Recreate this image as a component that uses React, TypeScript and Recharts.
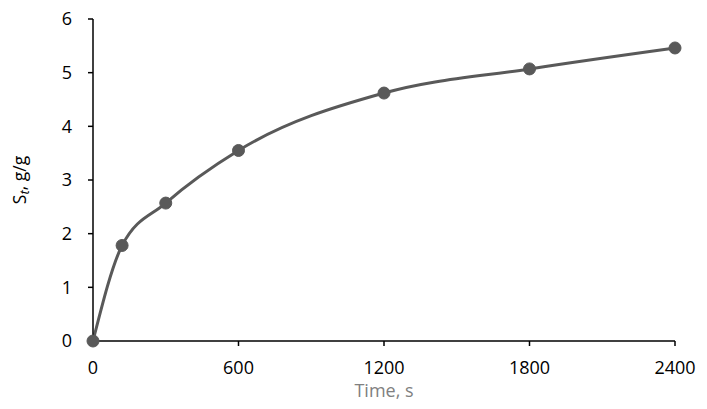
import { LineChart, Line, XAxis, YAxis } from 'recharts'

const times = [0, 120, 300, 600, 1200, 1800, 2400]
const swelling = [0, 1.78, 2.57, 3.55, 4.62, 5.07, 5.46]
const xTicks = [0, 600, 1200, 1800, 2400]
const yTicks = [0, 1, 2, 3, 4, 5, 6]

const data = times.map((t, i) => ({ time: t, st: swelling[i] }))

const FONT = "'Open Sans', 'Noto Sans', sans-serif"

function YLabel(props: any) {
  const vb = props.viewBox || {}
  const cx = 19
  const cy = vb.y + vb.height / 2
  return (
    <text
      x={cx}
      y={cy}
      transform={`rotate(-90, ${cx}, ${cy})`}
      textAnchor="middle"
      dominantBaseline="central"
      fontFamily={FONT}
      fontSize={17.5}
      fill="#000"
    >
      S
      <tspan fontStyle="italic" fontSize={13} dy={5}>t</tspan>
      <tspan dy={-5}>, g/g</tspan>
    </text>
  )
}

export default function App() {
  return (
    <div style={{ position: 'fixed', left: 0, top: 0, width: 707, height: 409, background: '#fff' }}>
      <LineChart
        width={707}
        height={409}
        data={data}
        margin={{ top: 19, right: 32, bottom: 0, left: 0 }}
      >
        <XAxis
          dataKey="time"
          type="number"
          domain={[0, 2400]}
          ticks={xTicks}
          height={68}
          axisLine={{ stroke: '#000', strokeWidth: 1.5 }}
          tickLine={{ stroke: '#000', strokeWidth: 1.5 }}
          tickSize={5}
          tickMargin={15}
          tick={{ fontSize: 18, fill: '#000', fontFamily: FONT }}
          label={{
            value: 'Time, s',
            position: 'insideBottom',
            offset: 12,
            style: { fontSize: 18, fill: '#808080', fontFamily: FONT },
          }}
        />
        <YAxis
          type="number"
          domain={[0, 6]}
          ticks={yTicks}
          width={93}
          axisLine={{ stroke: '#000', strokeWidth: 1.5 }}
          tickLine={{ stroke: '#000', strokeWidth: 1.5 }}
          tickSize={5}
          tickMargin={16}
          tick={{ fontSize: 18, fill: '#000', fontFamily: FONT }}
          label={<YLabel />}
        />
        <Line
          type="monotone"
          dataKey="st"
          stroke="#595959"
          strokeWidth={3}
          dot={{ r: 6, fill: '#595959', stroke: '#595959', strokeWidth: 1 }}
          isAnimationActive={false}
        />
      </LineChart>
    </div>
  )
}
